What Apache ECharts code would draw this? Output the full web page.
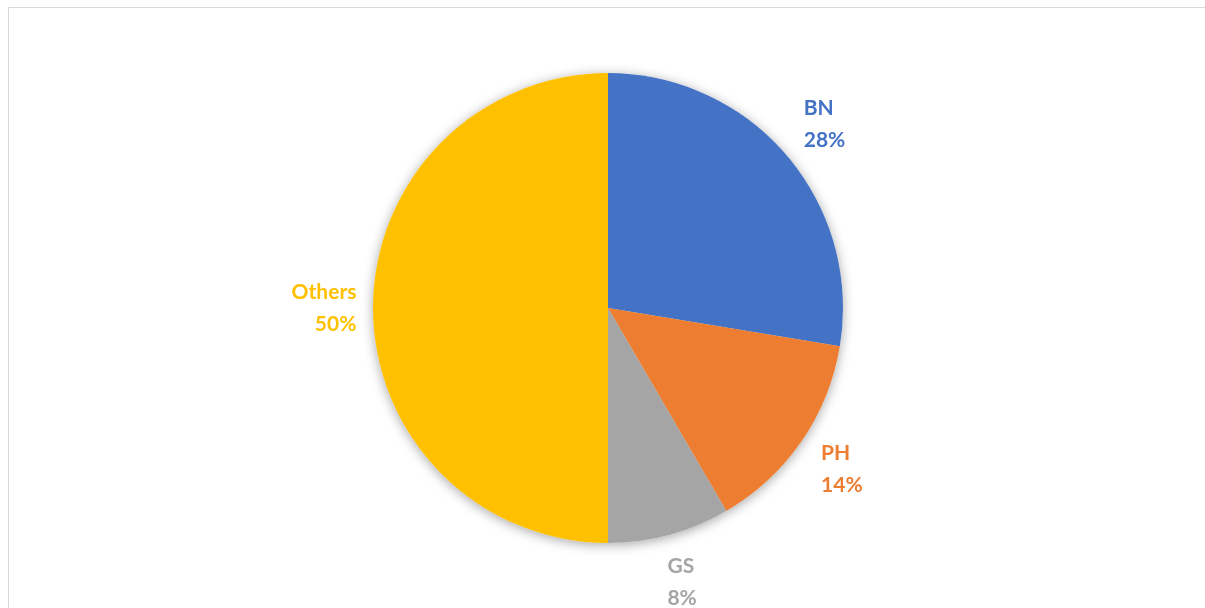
<!DOCTYPE html>
<html>
<head>
<meta charset="utf-8">
<script src="https://cdn.jsdelivr.net/npm/echarts@6/dist/echarts.min.js"></script>
<style>
html,body{margin:0;padding:0;background:#fff;overflow:hidden;}
#frame{position:absolute;left:8px;top:7px;width:1300px;height:700px;border:1px solid #d9d9d9;box-sizing:border-box;}
#main{position:absolute;left:0;top:0;width:1205px;height:608px;}
</style>
</head>
<body>
<div id="frame"></div>
<div id="main"></div>
<script>
const categories = ['BN', 'PH', 'GS', 'Others'];
const shares = [27.6, 14.0, 8.4, 50.0];
const colors = ['#4472C4', '#ED7D31', '#A5A5A5', '#FFC000'];

const data = categories.map((c, i) => ({ name: c, value: shares[i] }));

const chart = echarts.init(document.getElementById('main'));
chart.setOption({
  animation: false,
  series: [
    {
      type: 'pie',
      silent: true,
      center: [608, 308],
      radius: 235,
      startAngle: 90,
      clockwise: true,
      z: 1,
      label: { show: false },
      labelLine: { show: false },
      itemStyle: { color: '#ffffff', shadowBlur: 12, shadowColor: 'rgba(0,0,0,0.35)', shadowOffsetY: 2 },
      data: data
    },
    {
      type: 'pie',
      center: [608, 308],
      radius: 235,
      startAngle: 90,
      clockwise: true,
      z: 2,
      avoidLabelOverlap: false,
      data: data.map((d, i) => ({
        name: d.name, value: d.value,
        itemStyle: { color: colors[i] },
        label: { color: colors[i] }
      })),
      label: {
        show: true,
        position: 'outside',
        formatter: p => p.name + '\n' + Math.round(p.percent) + '%',
        fontFamily: 'Lato',
        fontWeight: 'bold',
        fontSize: 21,
        lineHeight: 32,
        distanceToLabelLine: 0
      },
      labelLine: { show: false, length: 49, length2: 0 },
      labelLayout: function (params) {
        const w = params.labelRect.width;
        let dx = 0;
        if (params.align === 'left') dx = -w / 2;
        else if (params.align === 'right') dx = w / 2;
        return { dx: dx };
      },
      itemStyle: { borderWidth: 0 }
    }
  ]
});
</script>
</body>
</html>
